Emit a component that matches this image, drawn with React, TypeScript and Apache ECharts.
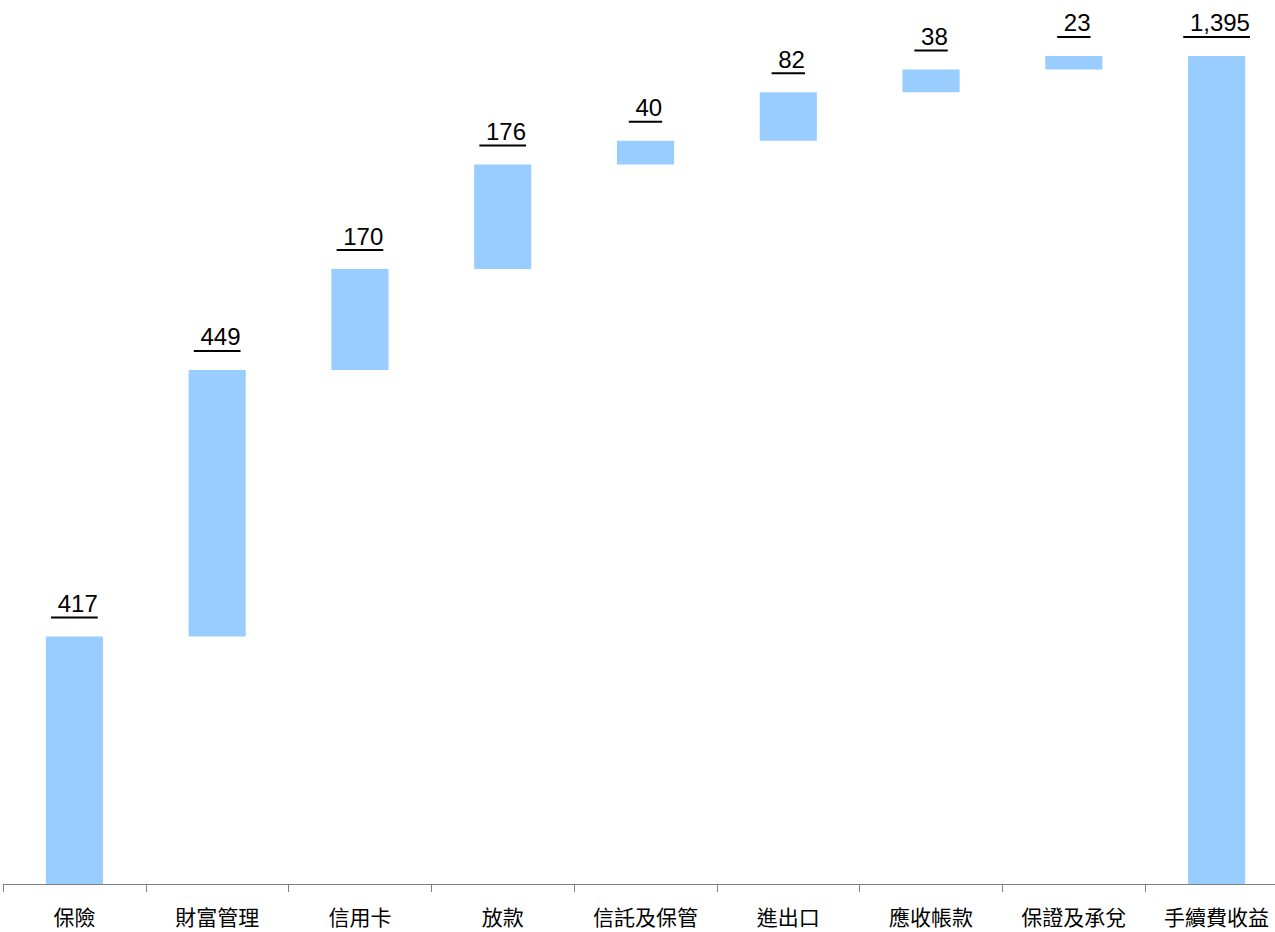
import React, { useEffect, useRef } from "react";
import * as echarts from "echarts";

const categories = ["保險", "財富管理", "信用卡", "放款", "信託及保管", "進出口", "應收帳款", "保證及承兌", "手續費收益"];
const increments = [417, 449, 170, 176, 40, 82, 38, 23];
const total = 1395;

const LABEL_FONT = "24px 'Liberation Sans', Arial, sans-serif";

function measure(text: string): number {
  const c = document.createElement("canvas");
  const ctx = c.getContext("2d");
  if (!ctx) return text.length * 13;
  ctx.font = LABEL_FONT;
  return ctx.measureText(text).width;
}

export default function App() {
  const ref = useRef<HTMLDivElement>(null);
  useEffect(() => {
    if (!ref.current) return;
    const chart = echarts.init(ref.current, null, { renderer: "svg" });
    const rows: number[][] = [];
    let acc = 0;
    increments.forEach((v, i) => {
      rows.push([i, acc, acc + v, v]);
      acc += v;
    });
    rows.push([increments.length, 0, total, total]);
    const fmt = (v: number) => v.toLocaleString("en-US");
    const spaceW = measure(" ");

    chart.setOption({
      animation: false,
      grid: { left: 3, right: 0, top: 53, bottom: 48, containLabel: false },
      xAxis: {
        type: "category",
        data: categories,
        axisLine: { lineStyle: { color: "#808080", width: 1 } },
        axisTick: { show: true, length: 8, lineStyle: { color: "#808080" } },
        axisLabel: {
          margin: 21,
          fontSize: 21,
          color: "#000",
          fontFamily: "'Noto Sans CJK TC', sans-serif",
          interval: 0,
        },
        splitLine: { show: false },
      },
      yAxis: { type: "value", min: 0, max: 1400, show: false },
      series: [
        {
          type: "custom",
          clip: false,
          encode: { x: 0, y: [1, 2] },
          data: rows,
          renderItem: (params: any, api: any) => {
            const idx = api.value(0);
            const low = api.value(1);
            const high = api.value(2);
            const val = api.value(3);
            const pTop = api.coord([idx, high]);
            const pBot = api.coord([idx, low]);
            const bw = api.size([1, 0])[0] * 0.4;
            const label = fmt(val);
            const tw = measure(label) + spaceW;
            const cx = pTop[0];
            const lineY = pTop[1] - 19;
            return {
              type: "group",
              children: [
                {
                  type: "rect",
                  shape: { x: cx - bw / 2, y: pTop[1], width: bw, height: pBot[1] - pTop[1] },
                  style: { fill: "#99CCFF" },
                },
                {
                  type: "text",
                  style: {
                    x: cx + tw / 2,
                    y: lineY - 2,
                    text: label,
                    font: LABEL_FONT,
                    fill: "#000",
                    textAlign: "right",
                    textVerticalAlign: "bottom",
                  },
                },
                {
                  type: "line",
                  shape: { x1: cx - tw / 2, y1: lineY, x2: cx + tw / 2, y2: lineY },
                  style: { stroke: "#000", lineWidth: 2 },
                },
              ],
            };
          },
        },
      ],
    });
    return () => chart.dispose();
  }, []);
  return (
    <div style={{ position: "fixed", left: 0, top: 0, width: 1275, height: 932, overflow: "hidden", background: "#fff" }}>
      <div ref={ref} style={{ width: 1288, height: 932 }} />
    </div>
  );
}
